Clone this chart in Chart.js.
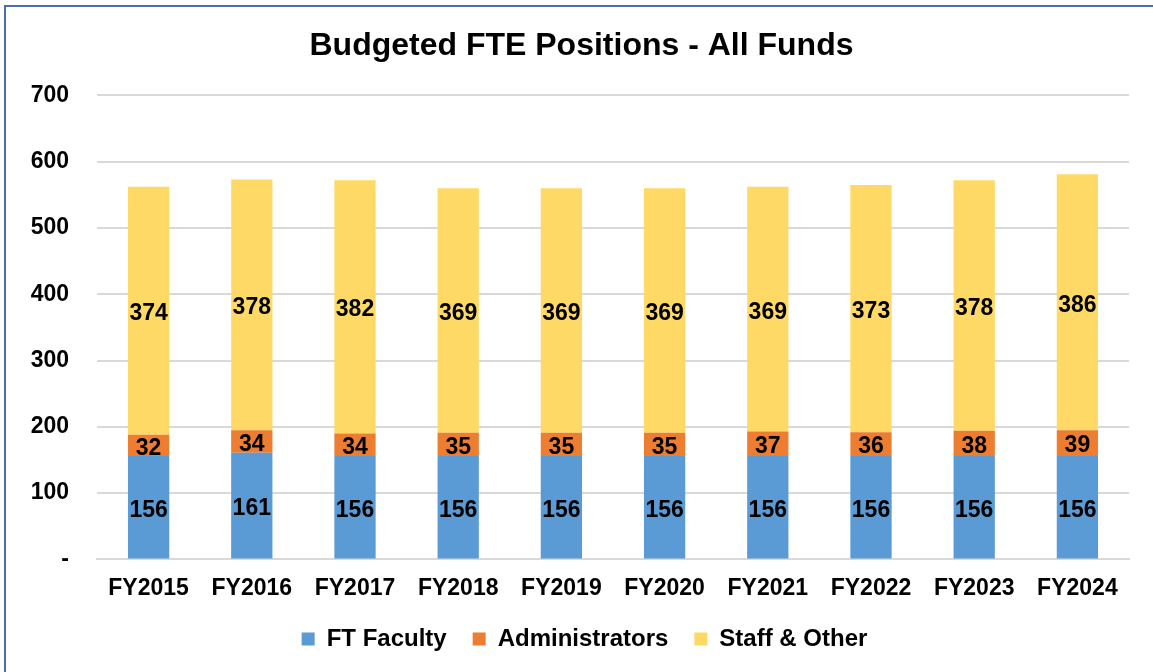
<!DOCTYPE html>
<html>
<head>
<meta charset="utf-8">
<script src="https://cdn.jsdelivr.net/npm/chart.js@4"></script>
<style>
  body { margin: 0; background: #fff; }
  #wrap { position: relative; width: 1153px; height: 672px; }
  #frame { position: absolute; left: 4px; top: 5px; width: 1160px; height: 680px;
           border-top: 2px solid #4a6db0; border-left: 2px solid #4a6db0; box-sizing: border-box; }
  canvas { position: absolute; left: 0; top: 0; }
</style>
</head>
<body>
<div id="wrap">
  <canvas id="fteChart" width="1153" height="672"></canvas>
  <div id="frame"></div>
</div>
<script>
const years = ['FY2015', 'FY2016', 'FY2017', 'FY2018', 'FY2019', 'FY2020', 'FY2021', 'FY2022', 'FY2023', 'FY2024'];
const faculty = [156, 161, 156, 156, 156, 156, 156, 156, 156, 156];
const admins = [32, 34, 34, 35, 35, 35, 37, 36, 38, 39];
const staff = [374, 378, 382, 369, 369, 369, 369, 373, 378, 386];
const yTicks = [0, 100, 200, 300, 400, 500, 600, 700];

// draws the value in the middle of each stacked segment
const barLabels = {
  id: 'barLabels',
  afterDatasetsDraw(chart) {
    const ctx = chart.ctx;
    ctx.save();
    ctx.font = 'bold 23px "Liberation Sans", Arial, sans-serif';
    ctx.fillStyle = '#000';
    ctx.textAlign = 'center';
    ctx.textBaseline = 'middle';
    chart.data.datasets.forEach((ds, i) => {
      chart.getDatasetMeta(i).data.forEach((bar, j) => {
        const mid = (bar.y + bar.base) / 2;
        ctx.fillText(ds.data[j], bar.x, mid + 3);
      });
    });
    ctx.restore();
  }
};

// title and legend sit a bit right of the canvas centre in the original
const shiftBlocks = {
  id: 'shiftBlocks',
  afterLayout(chart) {
    if (chart.titleBlock) chart.titleBlock.left = 34;
    if (chart.legend) chart.legend.left = 40;
  }
};

const font = { family: '"Liberation Sans", Arial, sans-serif', weight: 'bold', size: 23 };

new Chart(document.getElementById('fteChart').getContext('2d'), {
  type: 'bar',
  data: {
    labels: years,
    datasets: [
      { label: 'FT Faculty', data: faculty, backgroundColor: '#5b9bd5' },
      { label: 'Administrators', data: admins, backgroundColor: '#ed7d31' },
      { label: 'Staff & Other', data: staff, backgroundColor: '#ffd966' }
    ]
  },
  options: {
    responsive: false,
    animation: false,
    categoryPercentage: 1,
    barPercentage: 0.4,
    layout: { padding: { left: 4, right: 24, top: 27, bottom: 11 } },
    plugins: {
      title: {
        display: true,
        text: 'Budgeted FTE Positions - All Funds',
        color: '#000',
        font: { family: font.family, weight: 'bold', size: 32 },
        padding: { top: 0, bottom: 30 }
      },
      legend: {
        position: 'bottom',
        labels: {
          color: '#000',
          font: { family: font.family, weight: 'bold', size: 24 },
          boxWidth: 13,
          boxHeight: 13,
          padding: 26
        }
      },
      tooltip: { enabled: false }
    },
    scales: {
      x: {
        stacked: true,
        grid: { display: false },
        border: { color: '#d9d9d9', width: 2 },
        ticks: { color: '#000', font: font, padding: 7, maxRotation: 0 },
        afterFit(axis) { axis.height -= 8; }
      },
      y: {
        stacked: true,
        min: 0,
        max: 700,
        afterBuildTicks(axis) { axis.ticks = yTicks.map(v => ({ value: v })); },
        afterFit(axis) { axis.width = 93; },
        grid: { color: '#d9d9d9', lineWidth: 2, drawTicks: false },
        border: { display: false },
        ticks: {
          color: '#000',
          font: font,
          padding: 28,
          callback: v => v === 0 ? '-' : v
        }
      }
    }
  },
  plugins: [barLabels, shiftBlocks]
});
</script>
</body>
</html>
